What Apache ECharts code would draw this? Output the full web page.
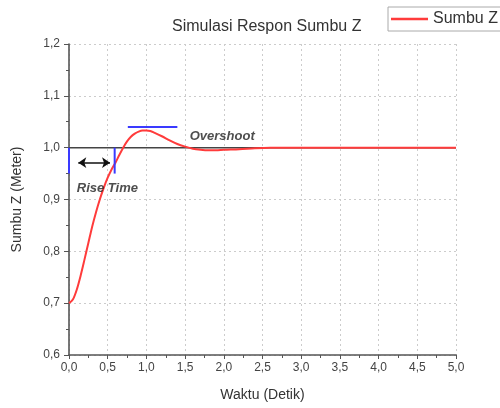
<!DOCTYPE html>
<html><head><meta charset="utf-8">
<script src="https://cdn.jsdelivr.net/npm/echarts@6/dist/echarts.min.js"></script>
<style>html,body{margin:0;padding:0;background:#fff}#c{width:500px;height:408px}</style>
</head><body><div id="c"></div>
<script>
var timeData = [0, 0.05, 0.1, 0.15, 0.2, 0.25, 0.3, 0.35, 0.4, 0.45, 0.5, 0.55, 0.6, 0.65, 0.7, 0.75, 0.8, 0.85, 0.9, 0.95, 1.0, 1.05, 1.1, 1.2, 1.3, 1.4, 1.5, 1.6, 1.7, 1.8, 1.9, 2.0, 2.2, 2.4, 2.6, 3.0, 3.5, 4.0, 4.5, 5.0];
var zData = [0.700, 0.707, 0.726, 0.753, 0.784, 0.816, 0.848, 0.876, 0.901, 0.923, 0.942, 0.958, 0.971, 0.986, 1.000, 1.012, 1.021, 1.027, 1.031, 1.033, 1.033, 1.032, 1.029, 1.022, 1.014, 1.007, 1.002, 0.998, 0.996, 0.995, 0.995, 0.996, 0.997, 0.999, 1.000, 1.000, 1.000, 1.000, 1.000, 1.000];
var xTicks = [0, 5, 0.5];      // min, max, interval
var yTicks = [0.6, 1.2, 0.1];  // min, max, interval
var setpoint = 1.0;
var riseLeft = [[0, 0.95], [0, 1.0]];
var riseRight = [[0.59, 0.95], [0.59, 1.0]];
var overshootBar = [[0.76, 1.04], [1.40, 1.04]];
var riseArrow = [[0.12, 0.971], [0.53, 0.971]];
var riseLabel = [0.10, 0.922, 'Rise Time'];
var overshootLabel = [1.56, 1.022, 'Overshoot'];

var font = 'Liberation Sans, Arial, sans-serif';
var comma = function (v) { return v.toFixed(1).replace('.', ','); };
var chart = echarts.init(document.getElementById('c'));
var curve = timeData.map(function (t, i) { return [t, zData[i]]; });
var blue = { color: '#3a3aff', width: 2 };
var annoText = { fontFamily: font, fontSize: 13, fontWeight: 'bold', fontStyle: 'italic', color: '#222' };

chart.setOption({
  animation: false,
  title: {
    text: 'Simulasi Respon Sumbu Z', left: 167, top: 14,
    textStyle: { fontFamily: font, fontSize: 16, fontWeight: 'normal', color: '#333' }
  },
  legend: {
    data: [{ name: 'Sumbu Z', icon: 'rect' }], left: 388, top: 7, itemWidth: 37, itemHeight: 2.5, itemGap: 0,
    padding: [4, 8, 4, 3], borderColor: '#aaa', borderWidth: 1,
    textStyle: { fontFamily: font, fontSize: 16, color: '#333', padding: [0, 0, 0, 0] }
  },
  grid: { left: 69, right: 44, top: 44, bottom: 53 },
  xAxis: {
    type: 'value', min: xTicks[0], max: xTicks[1], interval: xTicks[2],
    name: 'Waktu (Detik)', nameLocation: 'middle', nameGap: 33,
    nameTextStyle: { fontFamily: font, fontSize: 14, color: '#333' },
    axisLine: { lineStyle: { color: '#555', width: 1.6 } },
    axisTick: { length: 4, lineStyle: { color: '#555' } },
    minorTick: { show: true, splitNumber: 2, length: 3, lineStyle: { color: '#555' } },
    axisLabel: { formatter: comma, fontFamily: font, fontSize: 12, color: '#444', margin: 7 },
    splitLine: { show: true, lineStyle: { color: '#ccc', type: [2, 3] } }
  },
  yAxis: {
    type: 'value', min: yTicks[0], max: yTicks[1], interval: yTicks[2],
    name: 'Sumbu Z (Meter)', nameLocation: 'middle', nameGap: 45,
    nameTextStyle: { fontFamily: font, fontSize: 14, color: '#333' },
    axisLine: { show: true, lineStyle: { color: '#555', width: 1.6 } },
    axisTick: { show: true, length: 5, lineStyle: { color: '#555' } },
    minorTick: { show: true, splitNumber: 2, length: 3, lineStyle: { color: '#555' } },
    axisLabel: { formatter: comma, fontFamily: font, fontSize: 12, color: '#444', margin: 9 },
    splitLine: { show: true, lineStyle: { color: '#ccc', type: [2, 3] } }
  },
  series: [
    {
      name: 'ref', type: 'line', data: [[xTicks[0], setpoint], [xTicks[1], setpoint]],
      symbol: 'none', lineStyle: { color: '#444', width: 1.5 }, silent: true, z: 1
    },
    {
      name: 'Sumbu Z', type: 'line', data: curve, smooth: 0.3, symbol: 'none',
      lineStyle: { color: '#ff3b3b', width: 2 }, itemStyle: { color: '#ff3b3b' }, z: 3
    },
    { name: 'r1', type: 'line', data: riseLeft, symbol: 'none', lineStyle: blue, z: 4 },
    { name: 'r2', type: 'line', data: riseRight, symbol: 'none', lineStyle: blue, z: 4 },
    { name: 'os', type: 'line', data: overshootBar, symbol: 'none', lineStyle: blue, z: 4 },
    {
      name: 'arrow', type: 'line', data: [], z: 5,
      markLine: {
        silent: true, symbol: ['arrow', 'arrow'], symbolSize: [8, 8],
        lineStyle: { color: '#111', width: 1.5, type: 'solid' }, label: { show: false },
        data: [[{ coord: riseArrow[0] }, { coord: riseArrow[1] }]]
      }
    },
    {
      name: 'labels', type: 'scatter', symbolSize: 0, z: 5,
      data: [riseLabel, overshootLabel],
      label: {
        show: true, position: 'right', distance: 0,
        formatter: function (p) { return p.data[2]; }, ...annoText
      }
    }
  ]
});
</script></body></html>
